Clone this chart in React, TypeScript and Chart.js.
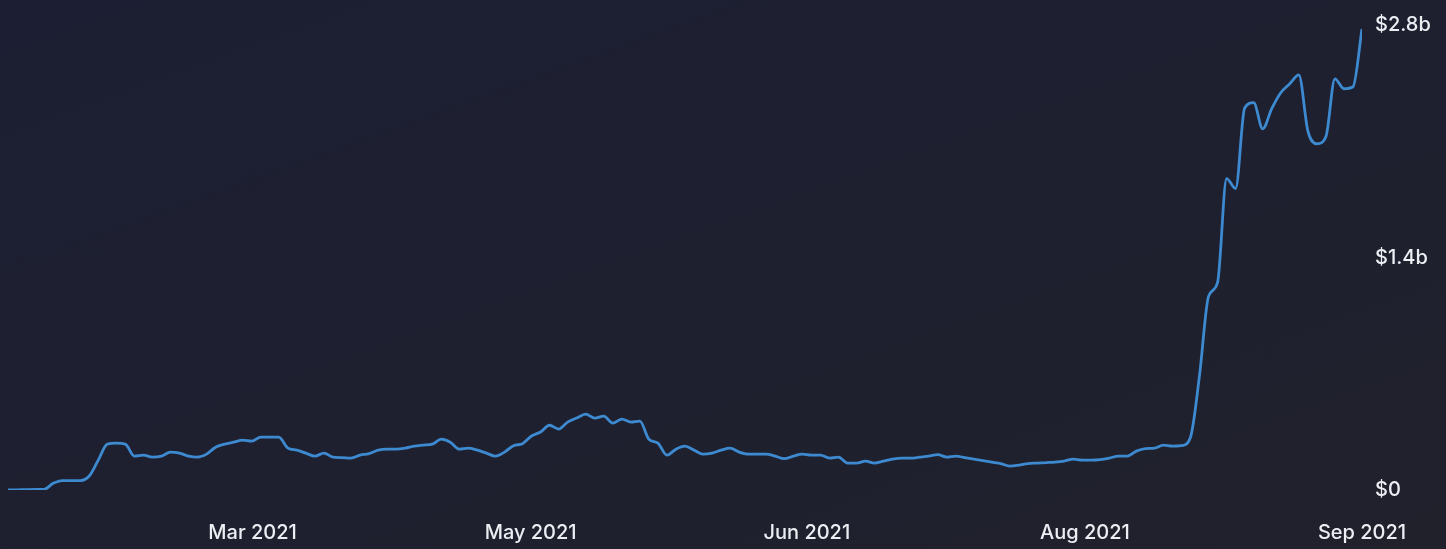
import React, { useEffect, useRef } from "react";
import { Chart, registerables } from "chart.js";

Chart.register(...registerables);

// Total value locked, in billions of USD (one reading per step along the time axis)
const tvl: number[] = [
  0.0, 0.001, 0.002, 0.003, 0.004, 0.04, 0.057, 0.057, 0.057, 0.084,
  0.18, 0.276, 0.282, 0.276, 0.204, 0.21, 0.198, 0.204, 0.228, 0.222,
  0.204, 0.198, 0.216, 0.258, 0.276, 0.288, 0.3, 0.294, 0.318, 0.318,
  0.318, 0.252, 0.24, 0.222, 0.204, 0.222, 0.198, 0.195, 0.192, 0.21,
  0.219, 0.24, 0.246, 0.246, 0.252, 0.264, 0.27, 0.276, 0.306, 0.288,
  0.246, 0.252, 0.24, 0.222, 0.204, 0.228, 0.267, 0.279, 0.325, 0.349,
  0.39, 0.367, 0.409, 0.433, 0.457, 0.433, 0.445, 0.403, 0.427, 0.409,
  0.415, 0.306, 0.282, 0.21, 0.246, 0.264, 0.24, 0.216, 0.222, 0.24,
  0.252, 0.228, 0.216, 0.216, 0.216, 0.204, 0.189, 0.204, 0.216, 0.21,
  0.21, 0.192, 0.198, 0.162, 0.162, 0.174, 0.162, 0.174, 0.186, 0.192,
  0.192, 0.198, 0.204, 0.213, 0.198, 0.204, 0.195, 0.186, 0.177, 0.168,
  0.159, 0.144, 0.15, 0.159, 0.162, 0.165, 0.168, 0.174, 0.186, 0.18,
  0.18, 0.183, 0.192, 0.204, 0.204, 0.234, 0.249, 0.252, 0.27, 0.264,
  0.267, 0.318, 0.69, 1.166, 1.25, 1.875, 1.815, 2.3, 2.332, 2.175,
  2.296, 2.392, 2.446, 2.5, 2.163, 2.085, 2.127, 2.476, 2.416, 2.428,
  2.776,
];

const xTickIndex: number[] = [27.1, 57.9, 88.5, 119.3, 150];
const xTickLabels: string[] = ["Mar 2021", "May 2021", "Jun 2021", "Aug 2021", "Sep 2021"];
const yTickValues: number[] = [0, 1.4, 2.8];
const yTickLabels: string[] = ["$0", "$1.4b", "$2.8b"];

export default function App() {
  const ref = useRef<HTMLCanvasElement>(null);

  useEffect(() => {
    if (!ref.current) return;
    const textColor = "#eceef3";
    const font = { family: "Inter", size: 20, weight: 500 as const };
    const chart = new Chart(ref.current, {
      type: "line",
      data: {
        datasets: [
          {
            data: tvl.map((v, i) => ({ x: i, y: v })),
            borderColor: "#3d8ad0",
            borderWidth: 2.8,
            pointRadius: 0,
            fill: false,
            cubicInterpolationMode: "monotone",
          },
        ],
      },
      options: {
        animation: false,
        responsive: false,
        maintainAspectRatio: false,
        layout: { padding: { top: 8, left: 0, right: 0, bottom: 0 } },
        plugins: { legend: { display: false }, tooltip: { enabled: false } },
        scales: {
          x: {
            type: "linear",
            min: 0,
            max: tvl.length - 1,
            grid: { display: false, drawTicks: false },
            border: { display: false },
            afterBuildTicks: (s: any) => {
              s.ticks = xTickIndex.map((v) => ({ value: v }));
            },
            afterFit: (s: any) => {
              s.height = 59;
            },
            ticks: {
              autoSkip: false,
              maxRotation: 0,
              padding: 31,
              color: textColor,
              font,
              callback: (_v: any, i: number) => xTickLabels[i],
            },
          },
          y: {
            position: "right",
            min: 0,
            max: 2.8,
            grid: { display: false, drawTicks: false },
            border: { display: false },
            afterBuildTicks: (s: any) => {
              s.ticks = yTickValues.map((v) => ({ value: v }));
            },
            afterFit: (s: any) => {
              s.width = 76;
            },
            ticks: {
              padding: 13,
              crossAlign: "near",
              color: textColor,
              font,
              callback: (_v: any, i: number) => yTickLabels[i],
            },
          },
        },
      },
    });
    return () => chart.destroy();
  }, []);

  return (
    <div
      style={{
        position: "fixed",
        inset: 0,
        background: "linear-gradient(160deg, #1c1f33 0%, #1e2030 50%, #20212b 100%)",
      }}
    >
      <canvas
        ref={ref}
        width={1430}
        height={549}
        style={{ position: "absolute", left: 8, top: 0, width: 1430, height: 549 }}
      />
    </div>
  );
}
